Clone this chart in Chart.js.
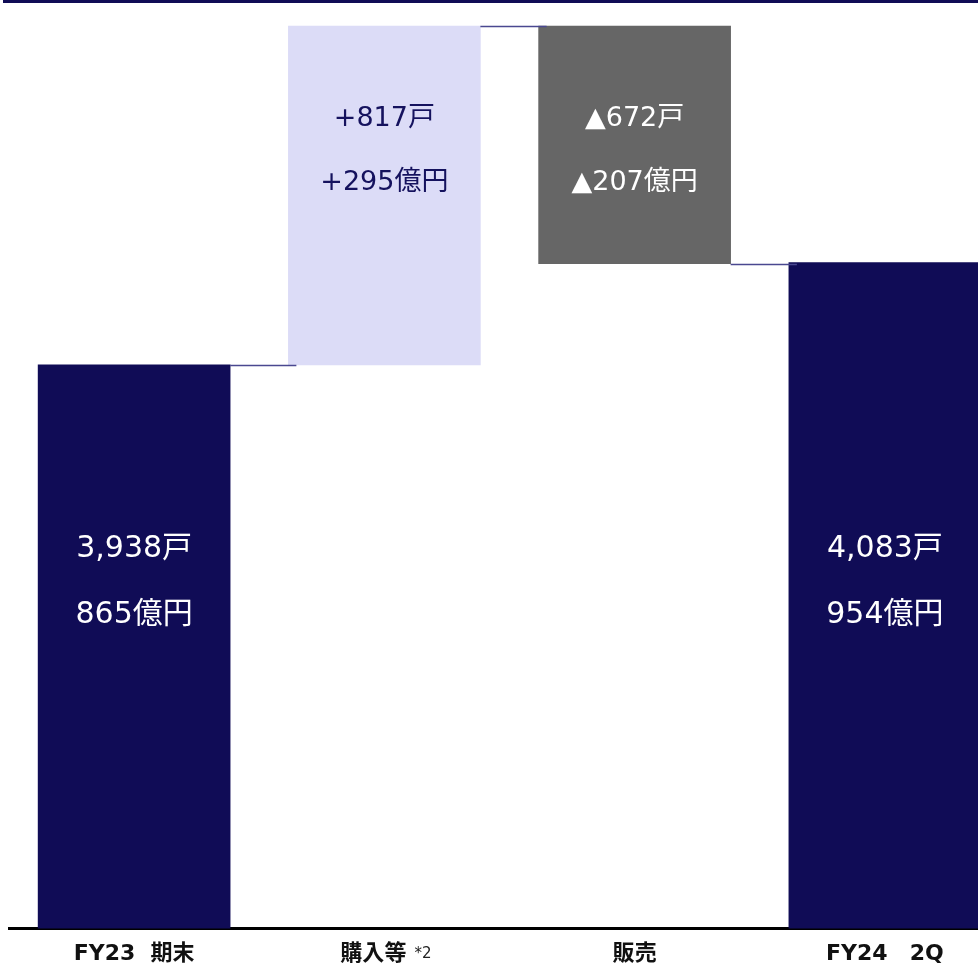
<!DOCTYPE html>
<html>
<head>
<meta charset="utf-8">
<script src="https://cdn.jsdelivr.net/npm/chart.js@4.4.1/dist/chart.umd.min.js"></script>
<style>
  html,body{margin:0;padding:0;background:#fff;overflow:hidden}
  #wrap{width:1010px;height:979px}
</style>
</head>
<body>
<div id="wrap"><canvas id="c" width="1010" height="979"></canvas></div>
<script>
// ===== data =====
const categories=['FY23  期末','購入等','販売','FY24\u30002Q'];
const notes=['','*2','',''];
const kinds=['total','delta','delta','total'];
const okuValues=[865,295,-207,954];          // 億円
const unitLabels=['3,938戸','+817戸','▲672戸','4,083戸'];
const okuLabels=['865億円','+295億円','▲207億円','954億円'];

const NAVY='#100c56';
const barColors=[NAVY,'#dcdcf7','#666666',NAVY];
const textColors=['#ffffff','#15125e','#ffffff','#ffffff'];
const FONT='"DejaVu Sans","Noto Sans CJK JP",sans-serif';

// floating ranges for the waterfall
let run=0;
const ranges=okuValues.map((v,i)=>{
  if(kinds[i]==='total'){run=v;return [0,v];}
  const a=run,b=run+v;run=b;
  return [Math.min(a,b),Math.max(a,b)];
});
// level each bar leaves behind (for connectors)
let lvl=0;
const levels=okuValues.map((v,i)=>{lvl=kinds[i]==='total'?v:lvl+v;return lvl;});

const decoPlugin={
  id:'deco',
  beforeDatasetsDraw(chart){
    const {ctx,chartArea:a}=chart;
    ctx.save();
    ctx.strokeStyle=NAVY;ctx.lineWidth=3;
    ctx.beginPath();ctx.moveTo(a.left-6,a.top-0.5);ctx.lineTo(chart.width,a.top-0.5);ctx.stroke();
    ctx.restore();
  },
  afterDatasetsDraw(chart){
    const {ctx,chartArea:a,scales}=chart;
    const meta=chart.getDatasetMeta(0);
    ctx.save();
    // connectors
    ctx.strokeStyle='#4a4890';ctx.lineWidth=1.5;
    meta.data.forEach((bar,i)=>{
      if(i===meta.data.length-1)return;
      const nx=meta.data[i+1];
      const y=Math.round(scales.y.getPixelForValue(levels[i]))+0.5;
      ctx.beginPath();
      ctx.moveTo(bar.x+bar.width/2,y);
      ctx.lineTo(nx.x-nx.width/2+8,y);
      ctx.stroke();
    });
    // value labels (two lines: 戸 / 億円)
    ctx.textAlign='center';ctx.textBaseline='alphabetic';
    meta.data.forEach((bar,i)=>{
      const top=Math.min(bar.y,bar.base);
      const total=kinds[i]==='total';
      const y1=total?a.top+a.height*0.5994:top+100;
      ctx.font=`400 ${total?30:27}px ${FONT}`;
      ctx.fillStyle=textColors[i];
      ctx.fillText(unitLabels[i],bar.x,y1);
      ctx.fillText(okuLabels[i],bar.x,y1+(total?66:64));
    });
    // superscript notes on axis labels
    ctx.font=`bold 22px ${FONT}`;
    notes.forEach((n,i)=>{
      if(!n)return;
      const full=ctx.measureText(categories[i]+'\u2003').width;
      const bw=ctx.measureText(categories[i]).width;
      const x=scales.x.getPixelForTick(i)-full/2+bw+8;
      ctx.save();
      ctx.font=`400 15px ${FONT}`;
      ctx.fillStyle='#222';ctx.textAlign='left';
      ctx.fillText(n,x,a.bottom+29);
      ctx.restore();
    });
    ctx.restore();
  }
};

new Chart(document.getElementById('c'),{
  type:'bar',
  plugins:[decoPlugin],
  data:{
    labels:categories,
    datasets:[{
      data:ranges,
      backgroundColor:barColors,
      borderWidth:0,
      barThickness:192,
    }]
  },
  options:{
    responsive:false,
    animation:false,
    layout:{padding:{top:2,left:9,right:0,bottom:0}},
    plugins:{legend:{display:false},tooltip:{enabled:false}},
    scales:{
      y:{display:false,min:374,max:1181},
      x:{
        grid:{display:false,drawTicks:false},
        border:{display:true,color:'#000',width:3},
        ticks:{
          color:'#111',padding:12,
          font:{family:FONT,size:22,weight:'bold'},
          callback:(v,i)=>categories[i]+(notes[i]?'\u2003':'')
        }
      }
    }
  }
});
</script>
</body>
</html>
